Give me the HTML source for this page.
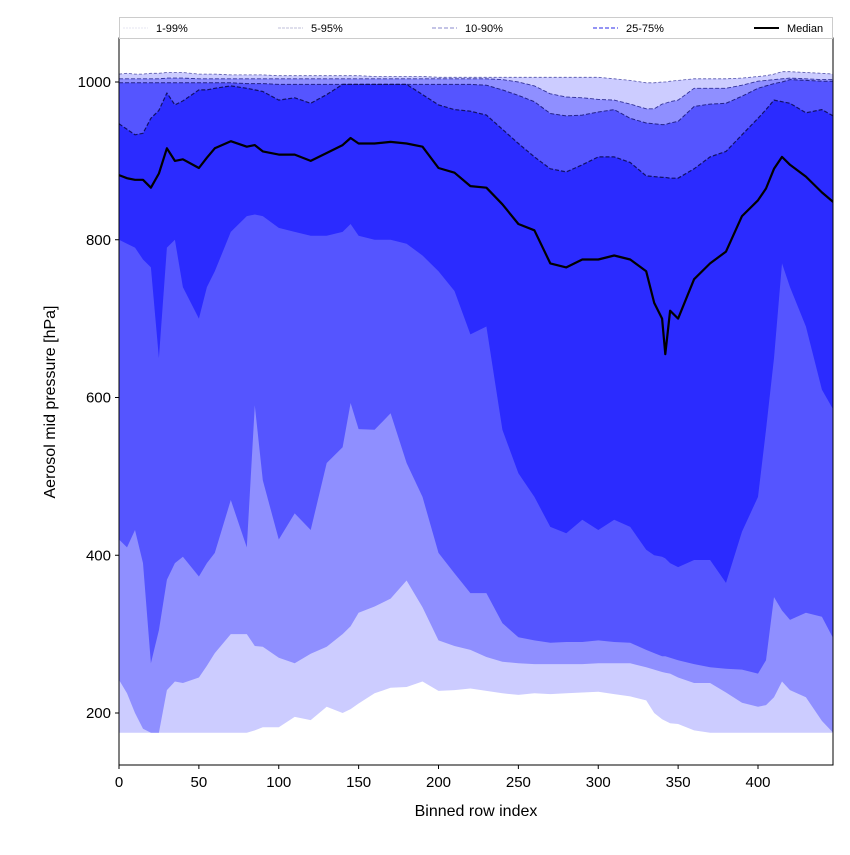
<!DOCTYPE html>
<html><head><meta charset="utf-8"><style>
body{margin:0;background:#fff}
svg text{font-family:"Liberation Sans",sans-serif;fill:#000}
</style></head><body>
<svg id="chart" width="850" height="850">
<g id="plot"></g>
<g id="axes"></g>
<g id="legend"></g>
</svg>
<script>
const xs=[0,5,10,15,20,25,30,35,40,50,55,60,70,80,85,90,100,110,120,130,140,145,150,160,170,180,190,200,210,220,230,240,250,260,270,280,290,300,310,320,330,335,340,342,345,350,360,370,380,390,400,405,410,415,420,430,440,447];
const p1=[175,175,175,175,175,175,175,175,175,175,175,175,175,175,178,182,182,195,191,208,200,205,212,225,232,233,240,228,229,231,228,225,223,225,224,225,226,227,224,221,216,200,192,190,187,186,178,175,175,175,175,175,175,175,175,175,175,175];
const p5=[242,225,200,180,175,175,229,240,238,245,260,276,300,300,285,284,270,263,275,284,300,310,327,335,345,368,334,292,285,280,271,265,263,262,262,262,262,263,263,263,258,255,252,251,250,245,238,238,226,213,208,210,220,240,229,220,190,175];
const p10=[420,410,432,390,263,305,369,390,398,373,390,403,470,410,590,495,420,453,432,517,537,593,560,559,580,517,474,403,377,352,352,314,296,292,289,290,290,292,290,289,280,276,272,272,270,267,262,258,256,255,250,267,347,330,318,327,322,295];
const p25=[800,795,790,775,765,650,790,800,740,700,740,760,810,830,832,830,815,810,805,805,810,820,805,800,800,795,780,760,735,680,690,559,504,474,436,428,445,432,445,436,407,400,398,396,390,385,394,394,365,430,474,559,650,770,740,690,610,585];
const med=[882,878,876,876,866,884,916,900,902,891,904,916,925,918,920,912,908,908,900,910,920,929,922,922,924,922,918,891,885,868,866,845,820,812,770,765,775,775,780,775,760,720,700,655,710,700,750,770,785,830,850,865,890,905,895,880,860,848];
const p75=[947,940,933,935,954,964,986,971,976,990,990,992,995,992,990,988,977,980,973,984,997,997,997,997,997,997,984,971,965,963,958,940,922,905,890,886,895,905,905,898,881,880,879,879,878,878,890,905,912,933,954,965,977,975,973,961,965,957];
const p90=[999,999,999,999,999,999,999,999,999,999,999,999,999,998,998,998,997,997,997,997,997,997,997,997,997,997,997,997,997,997,996,990,983,975,960,957,958,962,965,954,948,947,946,946,948,950,969,972,973,982,992,995,998,1000,1003,1002,1001,1001];
const p95=[1004,1004,1004,1004,1004,1004,1005,1005,1005,1004,1004,1004,1004,1004,1004,1004,1004,1004,1004,1004,1004,1004,1004,1004,1004,1004,1004,1004,1004,1004,1004,1003,1000,995,985,981,980,978,977,972,966,966,972,973,975,977,992,992,992,996,1001,1002,1003,1004,1005,1004,1003,1003];
const p99=[1010,1011,1010,1010,1011,1011,1012,1012,1012,1010,1010,1010,1009,1009,1009,1009,1008,1008,1008,1008,1008,1008,1008,1007,1007,1007,1007,1006,1006,1006,1006,1006,1006,1006,1006,1006,1006,1006,1004,1002,999,999,1000,1000,1001,1002,1004,1004,1004,1005,1007,1008,1010,1013,1013,1012,1011,1010];
const xTicks=[0,50,100,150,200,250,300,350,400];
const yTicks=[200,400,600,800,1000];
const legendLabels=["1-99%","5-95%","10-90%","25-75%","Median"];

const L=119,R=833,T=38,B=765;
const X=v=>L+(v-0)*(758-119)/400;
const Y=v=>713-(v-200)*(713-82)/800;
const NS="http://www.w3.org/2000/svg";
function mk(tag,parent,attrs){const e=document.createElementNS(NS,tag);for(const k in attrs)e.setAttribute(k,attrs[k]);parent.appendChild(e);return e;}
const plot=document.getElementById('plot'),axes=document.getElementById('axes'),leg=document.getElementById('legend');
mk('clipPath',plot,{id:'clip'}).appendChild(Object.assign(document.createElementNS(NS,'rect'),{}));
const cr=plot.querySelector('clipPath rect');cr.setAttribute('x',L);cr.setAttribute('y',T);cr.setAttribute('width',R-L);cr.setAttribute('height',B-T);
const g=mk('g',plot,{'clip-path':'url(#clip)'});
function band(lo,hi,fill,name){
  let d='M'+xs.map((x,i)=>X(x).toFixed(1)+','+Y(hi[i]).toFixed(1)).join('L');
  for(let i=xs.length-1;i>=0;i--)d+='L'+X(xs[i]).toFixed(1)+','+Y(lo[i]).toFixed(1);
  const p=mk('path',g,{d:d+'Z',fill:fill});
  
  
}
function line(arr,stroke,w,dash,name){
  const p=mk('path',g,{d:'M'+xs.map((x,i)=>X(x).toFixed(1)+','+Y(arr[i]).toFixed(1)).join('L'),fill:'none',stroke:stroke,'stroke-width':w,'stroke-dasharray':dash,'stroke-linejoin':'round'});
  
  
}
band(p1,p99,'#ccccff','band-1-99');
band(p5,p95,'#8f8fff','band-5-95');
band(p10,p90,'#5555ff','band-10-90');
band(p25,p75,'#2b2bff','band-25-75');
line(p99,'#5555aa',0.8,'3,2','line-p99');
line(p95,'#333399',0.9,'4,2','line-p95');
line(p90,'#222288',1,'4,2','line-p90');
line(p75,'#111166',1.2,'4,2','line-p75');
line(med,'#000',2.2,'','median-line');
mk('rect',axes,{x:L,y:T,width:R-L,height:B-T,fill:'none',stroke:'#000','stroke-width':1});
xTicks.forEach(v=>{
  mk('line',axes,{x1:X(v),x2:X(v),y1:B,y2:B+4,stroke:'#000'});
  const t=mk('text',axes,{x:X(v),y:B+22,'text-anchor':'middle','font-size':15});t.textContent=v;
  
  
});
yTicks.forEach(v=>{
  mk('line',axes,{x1:L-4,x2:L,y1:Y(v),y2:Y(v),stroke:'#000'});
  const t=mk('text',axes,{x:L-8,y:Y(v)+5,'text-anchor':'end','font-size':15});t.textContent=v;
  
  
});
const xl=mk('text',axes,{x:476,y:816,'text-anchor':'middle','font-size':16});xl.textContent='Binned row index';


const yl=mk('text',axes,{x:0,y:0,'text-anchor':'middle','font-size':16,transform:'translate(55,402) rotate(-90)'});yl.textContent='Aerosol mid pressure [hPa]';


mk('rect',leg,{x:119.5,y:17.5,width:713,height:21,fill:'#fff',stroke:'#ccc'});
const lx=[123,278,432,593,754],styles=[['#ddddee',0.8,'2,1'],['#aaaacc',0.8,'3,1'],['#8888cc',1,'4,2'],['#5555ee',1.2,'4,2'],['#000',2,'']];
legendLabels.forEach((s,i)=>{
  const e=mk('g',leg,{});
  
  
  mk('line',e,{x1:lx[i],x2:lx[i]+25,y1:28,y2:28,stroke:styles[i][0],'stroke-width':styles[i][1],'stroke-dasharray':styles[i][2]});
  const t=mk('text',e,{x:lx[i]+33,y:32,'font-size':11});t.textContent=s;
});
</script>
</body></html>
